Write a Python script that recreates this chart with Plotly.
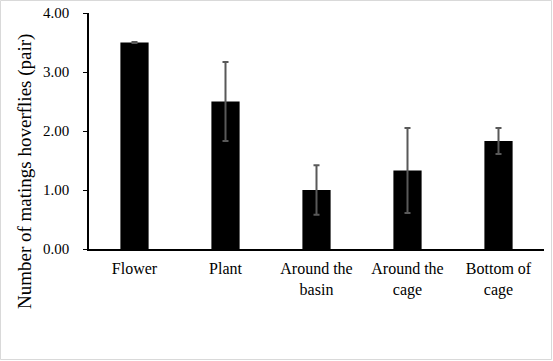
import plotly.graph_objects as go

categories = ["Flower", "Plant", "Around the<br>basin", "Around the<br>cage", "Bottom of<br>cage"]
values = [3.50, 2.50, 1.00, 1.33, 1.83]
errors = [0.01, 0.67, 0.42, 0.72, 0.22]
y_ticks = [0, 1, 2, 3, 4]
y_tick_labels = ["0.00", "1.00", "2.00", "3.00", "4.00"]
y_title = "Number of matings hoverflies (pair)"

W, H = 553, 361
L, R, T, B = 89, 9, 13, 112
pw, ph = W - L - R, H - T - B

fig = go.Figure(go.Bar(
    x=categories, y=values,
    marker=dict(color="black", line=dict(width=0)),
    width=0.31,
    error_y=dict(type="data", array=errors, visible=True, color="#595959", thickness=2, width=3),
))

font = dict(family="Liberation Serif, Times New Roman, serif", size=15, color="black")

fig.update_layout(
    width=W, height=H,
    margin=dict(l=L, r=R, t=T, b=B, autoexpand=False),
    paper_bgcolor="white", plot_bgcolor="white",
    font=font, showlegend=False,
    xaxis=dict(showline=True, linecolor="black", linewidth=1.5, ticks="", showgrid=False,
               tickfont=dict(size=16), range=[-0.5, 4.5], automargin=False, ticklabelstandoff=4),
    yaxis=dict(range=[0, 4], tickvals=y_ticks, ticktext=y_tick_labels, showline=True,
               linecolor="black", linewidth=1.5, ticks="outside", ticklen=4, tickcolor="black",
               showgrid=False, zeroline=False, tickfont=dict(size=15), automargin=False,
               ticklabelstandoff=11),
    annotations=[dict(text=y_title, textangle=-90, showarrow=False,
                      xref="paper", yref="paper",
                      x=(25 - L) / pw, y=(T + ph - 172) / ph,
                      xanchor="center", yanchor="middle",
                      font=dict(size=19))],
    shapes=[dict(type="rect", xref="paper", yref="paper",
                 x0=(0.5 - L) / pw, x1=(W - 1.5 - L) / pw,
                 y0=-(H - 1.5 - T - ph) / ph, y1=1 + (T - 0.5) / ph,
                 line=dict(color="#d9d9d9", width=1), layer="below")],
)

fig.write_html("out.html", config={"displayModeBar": False},
               post_script="document.body.style.margin='0';")
